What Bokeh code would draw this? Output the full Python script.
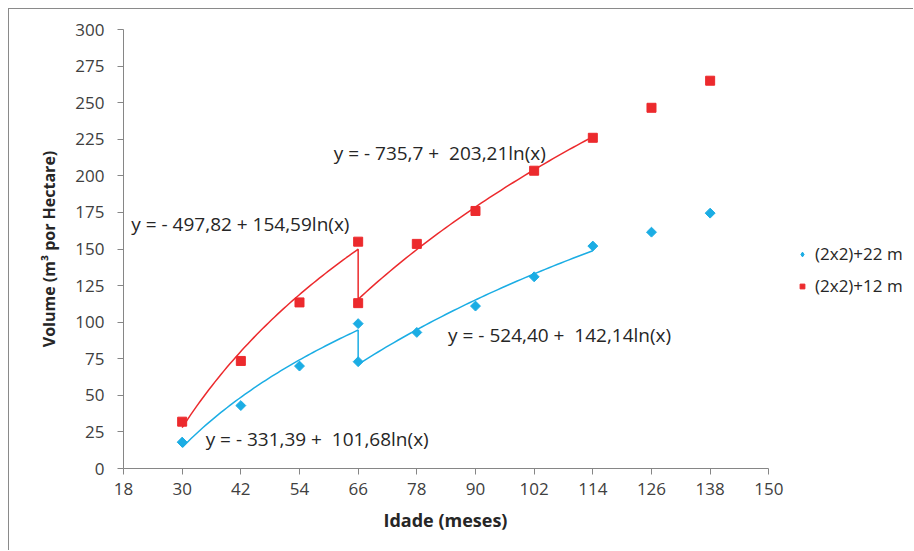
import numpy as np
from bokeh.plotting import figure
from bokeh.models import (FixedTicker, Range1d, Legend, LegendItem, Label,
                          ColumnDataSource, Title, CDSView, IndexFilter)
from bokeh.embed import file_html
from bokeh.resources import INLINE

# ---------------- data ----------------
idade = [30, 42, 54, 66, 66, 78, 90, 102, 114, 126, 138]
vol_22m = [18, 43, 70, 99, 73, 93, 111, 131, 152, 161.5, 174.5]
vol_12m = [32, 73.5, 113.5, 155, 113, 153.5, 176, 203.5, 226, 246.5, 265]

# trendline coefficients (y = a + b ln(x)) for two age segments
seg1_range = [30, 66]
seg2_range = [66, 114]
red_seg1 = [-497.82, 154.59]
red_seg2 = [-735.7, 203.21]
blue_seg1 = [-331.39, 101.68]
blue_seg2 = [-524.40, 142.14]

NB = "\u00a0"
eq_red1 = "y = - 497,82 + 154,59ln(x)"
eq_red2 = "y = - 735,7 +" + NB + NB + "203,21ln(x)"
eq_blue1 = "y = - 331,39 +" + NB + NB + "101,68ln(x)"
eq_blue2 = "y = - 524,40 +" + NB + NB + "142,14ln(x)"

x_ticks = list(range(18, 151, 12))
y_ticks = list(range(0, 301, 25))
x_axis_bounds = (18, 150)

BLUE = "#1BADE4"
RED = "#EC2A2D"
FONT = "Open Sans"


def trend(seg_a, seg_b, r1, r2):
    xa = np.linspace(r1[0], r1[1], 60)
    xb = np.linspace(r2[0], r2[1], 60)
    ya = seg_a[0] + seg_a[1] * np.log(xa)
    yb = seg_b[0] + seg_b[1] * np.log(xb)
    return np.concatenate([xa, xb]), np.concatenate([ya, yb])


# frame spans to the right edge so the legend (inside the frame) is not clipped;
# the x axis itself is bounded to 18..150
p = figure(width=905, height=542, output_backend="svg", toolbar_location=None,
           x_range=Range1d(18, 179.8), y_range=Range1d(0, 300),
           min_border_left=114, min_border_right=0, min_border_top=20,
           min_border_bottom=83)
p.styles = {"margin-left": "8px", "margin-top": "8px",
            "border-top": "1px solid #8a8a8a", "border-left": "1px solid #8a8a8a"}
p.outline_line_color = None
p.grid.visible = False
p.background_fill_color = "white"
p.border_fill_color = "white"

for ax, ticks in ((p.xaxis, x_ticks), (p.yaxis, y_ticks)):
    ax.ticker = FixedTicker(ticks=ticks)
    ax.minor_tick_line_color = None
    ax.major_tick_in = 0
    ax.major_tick_out = 6
    ax.axis_line_color = "#868686"
    ax.major_tick_line_color = "#868686"
    ax.major_label_text_color = "#404040"
    ax.major_label_text_font = FONT
    ax.major_label_text_font_size = "17px"
    ax.axis_label_text_font = FONT
    ax.axis_label_text_font_style = "bold"
    ax.axis_label_text_color = "#262626"

p.xaxis.bounds = x_axis_bounds
p.yaxis.axis_label = "Volume (m³ por Hectare)"
p.yaxis.axis_label_text_font_size = "16px"
p.xaxis.major_label_standoff = 8
p.yaxis.major_label_standoff = 13
p.yaxis.axis_label_standoff = 12

# x-axis label as a bottom title, left-aligned with an offset so that it is
# centred under the 18..150 span of the axis
xlab = Title(text="Idade (meses)", align="left", offset=260,
             text_font=FONT, text_font_style="bold", text_font_size="18px",
             text_color="#262626", standoff=16)
p.add_layout(xlab, "below")

# trendlines
bx, by = trend(blue_seg1, blue_seg2, seg1_range, seg2_range)
rx, ry = trend(red_seg1, red_seg2, seg1_range, seg2_range)
p.line(bx, by, line_color=BLUE, line_width=1.5)
p.line(rx, ry, line_color=RED, line_width=1.5)

src = ColumnDataSource(dict(x=idade, b=vol_22m, r=vol_12m))
rb = p.scatter("x", "b", source=src, marker="square", size=7, angle=np.pi / 4,
               fill_color=BLUE, line_color=BLUE)
rr = p.scatter("x", "r", source=src, marker="square", size=9,
               fill_color=RED, line_color=RED)
# legend glyph for the diamond marker (its single point hides inside the first
# rotated-square point)
leg_b = p.scatter("x", "b", source=src, view=CDSView(filter=IndexFilter(indices=[0])),
                  marker="diamond", size=9, fill_color=BLUE, line_color=BLUE)

# equations
for txt, lx, ly in ((eq_red2, 61.0, 215.3), (eq_red1, 19.6, 167.4),
                    (eq_blue2, 84.4, 90.9), (eq_blue1, 34.8, 20.5)):
    p.add_layout(Label(x=lx, y=ly, text=txt, text_font=FONT,
                       text_font_size="19px", text_color="#262626",
                       text_baseline="middle", text_align="left"))

legend = Legend(items=[LegendItem(label="(2x2)+22 m", renderers=[leg_b]),
                       LegendItem(label="(2x2)+12 m", renderers=[rr])],
                location=(673, 171), orientation="vertical",
                label_text_font=FONT, label_text_font_size="17px",
                label_text_color="#262626", glyph_width=12, glyph_height=12,
                spacing=9, padding=0, margin=0, label_standoff=7,
                border_line_color=None, background_fill_alpha=0)
p.add_layout(legend, "center")

open("out.html", "w").write(file_html(p, INLINE))
